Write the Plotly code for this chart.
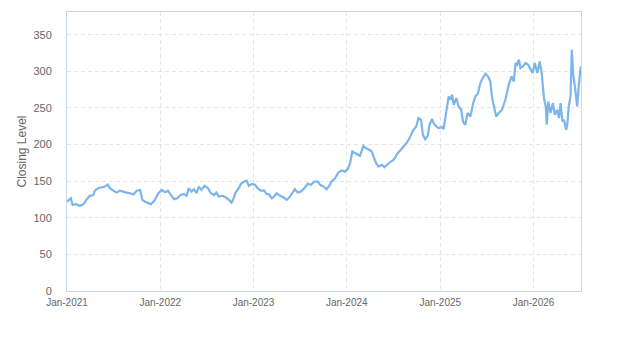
import plotly.graph_objects as go

dates = [
    "2021-01-01", "2021-01-16", "2021-01-23", "2021-02-07", "2021-02-20", "2021-03-06", "2021-03-18",
    "2021-03-31", "2021-04-14", "2021-04-20", "2021-05-03", "2021-05-16", "2021-05-29", "2021-06-09",
    "2021-06-18", "2021-07-01", "2021-07-14", "2021-07-27", "2021-08-09", "2021-08-22", "2021-09-04",
    "2021-09-18", "2021-10-01", "2021-10-14", "2021-10-23", "2021-11-02", "2021-11-16", "2021-11-26",
    "2021-12-09", "2021-12-25", "2022-01-07", "2022-01-20", "2022-01-31", "2022-02-14", "2022-02-24",
    "2022-03-09", "2022-03-22", "2022-04-04", "2022-04-14", "2022-04-23", "2022-05-03", "2022-05-13",
    "2022-05-23", "2022-06-01", "2022-06-11", "2022-06-24", "2022-07-07", "2022-07-18", "2022-07-31",
    "2022-08-09", "2022-08-18", "2022-08-31", "2022-09-14", "2022-09-27", "2022-10-07", "2022-10-13",
    "2022-10-23", "2022-11-02", "2022-11-13", "2022-11-26", "2022-12-05", "2022-12-14", "2022-12-25",
    "2023-01-07", "2023-01-17", "2023-01-30", "2023-02-12", "2023-02-21", "2023-03-02", "2023-03-13",
    "2023-03-23", "2023-04-02", "2023-04-15", "2023-04-28", "2023-05-11", "2023-05-24", "2023-06-02",
    "2023-06-12", "2023-06-23", "2023-07-06", "2023-07-19", "2023-08-01", "2023-08-14", "2023-08-27",
    "2023-09-10", "2023-09-19", "2023-10-02", "2023-10-15", "2023-10-24", "2023-11-03", "2023-11-16",
    "2023-11-29", "2023-12-13", "2023-12-26", "2024-01-05", "2024-01-14", "2024-01-23", "2024-02-03",
    "2024-02-13", "2024-02-22", "2024-03-06", "2024-03-16", "2024-03-29", "2024-04-08", "2024-04-15",
    "2024-04-25", "2024-05-04", "2024-05-18", "2024-05-27", "2024-06-09", "2024-06-22", "2024-07-05",
    "2024-07-18", "2024-07-31", "2024-08-10", "2024-08-24", "2024-09-03", "2024-09-16", "2024-09-29",
    "2024-10-08", "2024-10-18", "2024-10-25", "2024-11-03", "2024-11-13", "2024-11-20", "2024-11-30",
    "2024-12-06", "2024-12-17", "2024-12-26", "2025-01-08", "2025-01-14", "2025-01-25", "2025-02-03",
    "2025-02-10", "2025-02-16", "2025-02-23", "2025-03-05", "2025-03-14", "2025-03-24", "2025-03-31",
    "2025-04-09", "2025-04-18", "2025-04-29", "2025-05-10", "2025-05-19", "2025-05-28", "2025-06-07",
    "2025-06-16", "2025-06-27", "2025-07-07", "2025-07-16", "2025-07-23", "2025-07-29", "2025-08-08",
    "2025-08-18", "2025-08-31", "2025-09-13", "2025-09-26", "2025-10-07", "2025-10-16", "2025-10-23",
    "2025-10-29", "2025-11-05", "2025-11-11", "2025-11-20", "2025-12-01", "2025-12-11", "2025-12-20",
    "2025-12-29", "2026-01-06", "2026-01-16", "2026-01-25", "2026-02-02", "2026-02-11", "2026-02-18",
    "2026-02-22", "2026-02-28", "2026-03-09", "2026-03-18", "2026-03-26", "2026-04-04", "2026-04-11",
    "2026-04-17", "2026-04-24", "2026-04-30", "2026-05-09", "2026-05-14", "2026-05-19", "2026-05-26",
    "2026-05-31", "2026-06-05", "2026-06-12", "2026-06-18", "2026-06-21", "2026-06-27", "2026-07-05",
]

closing = [
    122, 126.7, 117.6, 118.5, 116, 118.5, 124.4,
    130, 131, 137, 140.4, 141.7, 142.6, 145.4,
    140.4, 137, 134.4, 137, 135.4, 134.4, 133.5,
    131.7, 137, 138, 124.4, 122, 120, 118.5,
    123.5, 133.5, 138, 135, 137, 130, 125.4,
    126.7, 131, 132.6, 130, 140.4, 135.8, 139,
    133.5, 142.6, 138, 143.6, 140.4, 133.5, 131,
    134.4, 129, 130, 128, 124.4, 120.7, 124.4,
    134.4, 139, 146.3, 149.5, 150.8, 143.6, 146.3,
    145, 140.4, 137, 137, 132.6, 132, 126.7,
    129, 133.5, 130, 128, 124.4, 129, 133.5,
    139, 134.4, 135.8, 140.4, 146.3, 145, 149.5,
    149.5, 145, 142.6, 139, 143.6, 149.5, 154,
    161.7, 164.5, 163, 166.4, 174.6, 190.5, 188.3,
    187.3, 184.6, 198.2, 195.1, 192.8, 190.5, 183.6,
    174.6, 170, 172.3, 169.1, 173.6, 176.8, 180,
    188.3, 192.8, 196.5, 202.8, 208.8, 219.2, 224.6,
    236.1, 233.8, 213.3, 207.4, 211.9, 227, 234.8,
    229.3, 224.6, 222.4, 223.8, 221, 243, 265.6,
    261.1, 268, 254.3, 263.5, 252, 247.5, 231.5,
    227, 243, 238.3, 256.6, 266, 269, 284,
    290.8, 296.7, 293, 286.2, 263.5, 254.3, 238.3,
    243, 247.5, 261.1, 281.6, 293, 286.2, 311.3,
    309, 315.8, 304.5, 306.7, 311.3, 309, 302.2,
    297.7, 311.3, 297.7, 313.5, 297.7, 263.5, 252,
    227, 258.8, 243, 256.6, 240.6, 247.5, 236.1,
    256.6, 231.5, 233.8, 220.1, 229.3, 252, 265.6,
    329.5, 297.7, 279.3, 263.5, 252, 279.3, 306.7,
]

y_title = "Closing Level"

fig = go.Figure(
    go.Scatter(
        x=dates,
        y=closing,
        mode="lines",
        line=dict(color="#7cb5ec", width=2.2),
        hoverinfo="x+y",
    )
)

font_family = "Liberation Sans, Arial, sans-serif"

grid_dash = "4px,3px"

fig.update_layout(
    width=623,
    height=350,
    margin=dict(l=67, r=42, t=12, b=59),
    paper_bgcolor="white",
    plot_bgcolor="white",
    showlegend=False,
    font=dict(family=font_family, color="#666666", size=11),
    xaxis=dict(
        type="date",
        range=["2021-01-01", "2026-07-06"],
        tick0="2021-01-01",
        dtick="M12",
        tickformat="%b-%Y",
        showgrid=True,
        gridcolor="#e6e6e6",
        griddash=grid_dash,
        gridwidth=1,
        showline=True,
        linecolor="#ccd6eb",
        linewidth=1,
        mirror=True,
        zeroline=False,
        tickfont=dict(size=10, color="#666666"),
        ticks="",
        ticklabelstandoff=2,
    ),
    yaxis=dict(
        range=[0, 381],
        dtick=50,
        tick0=0,
        showgrid=True,
        gridcolor="#e6e6e6",
        griddash=grid_dash,
        gridwidth=1,
        showline=True,
        linecolor="#ccd6eb",
        linewidth=1,
        mirror=True,
        zeroline=False,
        tickfont=dict(size=11, color="#666666"),
        ticks="",
        ticklabelstandoff=12,
        title=dict(text=y_title, font=dict(size=12, color="#666666"), standoff=4),
    ),
)

fig.write_html("out.html")
